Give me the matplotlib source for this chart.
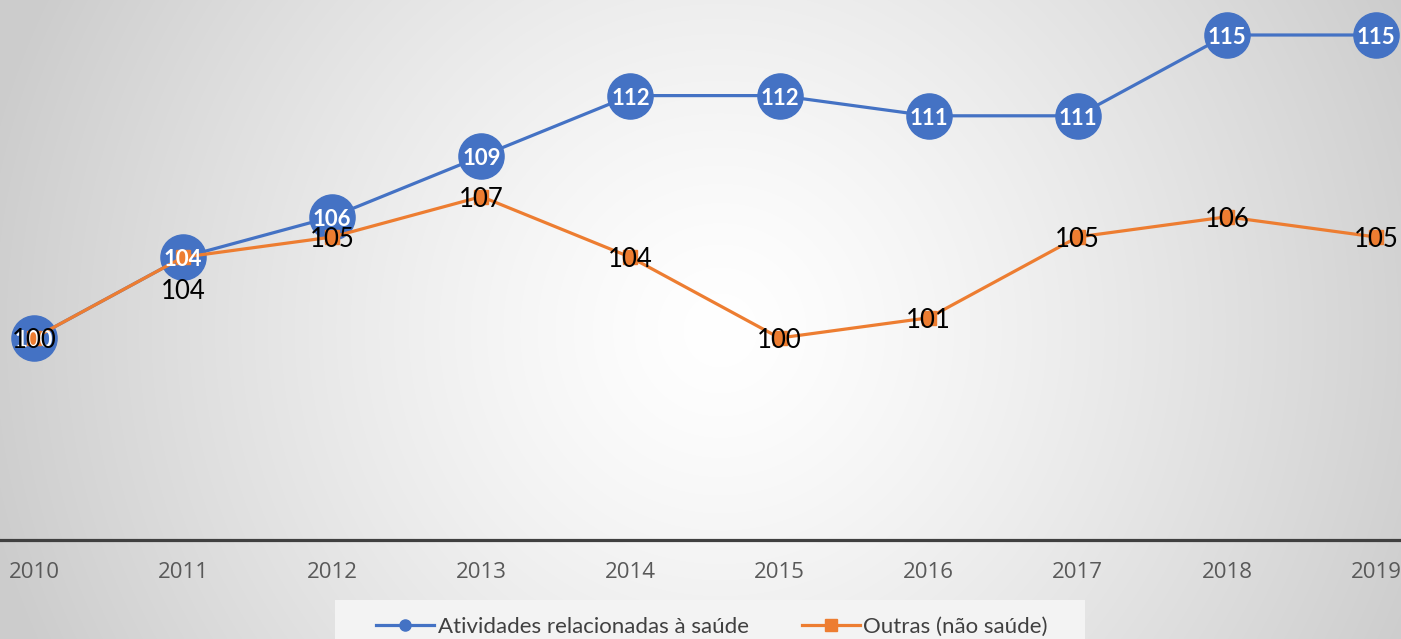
import numpy as np
import matplotlib
matplotlib.use("Agg")
import matplotlib.pyplot as plt
from matplotlib.lines import Line2D

years = [2010, 2011, 2012, 2013, 2014, 2015, 2016, 2017, 2018, 2019]
saude = [100, 104, 106, 109, 112, 112, 111, 111, 115, 115]
outras = [100, 104, 105, 107, 104, 100, 101, 105, 106, 105]
serie_names = ["Atividades relacionadas à saúde", "Outras (não saúde)"]

BLUE = "#4472C4"
ORANGE = "#ED7D31"
W, H = 1401, 639
fig = plt.figure(figsize=(W / 100, H / 100), dpi=100)

# radial gradient background
bg = fig.add_axes([0, 0, 1, 1], zorder=-10)
yy, xx = np.mgrid[0:H, 0:W]
r = np.sqrt(((xx - 720) / 1.0) ** 2 + ((yy - 330) / 1.0) ** 2)
v = 1.0 - 0.20 * np.clip(r / 760, 0, 1) ** 1.3
img = np.dstack([v, v, v])
bg.imshow(img, aspect="auto", extent=[0, W, H, 0])
bg.set_xlim(0, W)
bg.set_ylim(H, 0)
bg.axis("off")
# legend box
bg.add_patch(plt.Rectangle((335, 600), 750, 45, facecolor="#f3f3f3", edgecolor="none"))

ax = fig.add_axes([0, 1 - 540 / H, 1, 540 / H])
ax.patch.set_alpha(0)
px = 149.11
ax.set_xlim(2010 - 34 / px, 2019 + 25 / px)
ppu = 20.2
ax.set_ylim(100 - 202 / ppu, 100 + 338 / ppu)

ax.plot(years, saude, color=BLUE, lw=2.3, marker="o", ms=32.5, mec=BLUE, mfc=BLUE, zorder=2, clip_on=False)
ax.plot(years, outras, color=ORANGE, lw=2.3, marker="s", ms=9.5, mec=ORANGE, mfc=ORANGE, zorder=3, clip_on=False)

for x, y in zip(years, saude):
    ax.annotate(str(y), (x, y), xytext=(0, -2), textcoords="offset points", ha="center", va="center",
                color="white", fontsize=16, fontweight="bold", family="Lato", zorder=4)
for i, (x, y) in enumerate(zip(years, outras)):
    dy = -25 if x == 2011 else -2
    ax.annotate(str(y), (x, y), xytext=(0, dy), textcoords="offset points", ha="center", va="center",
                color="black", fontsize=18.5, family="Lato", zorder=5)

for s in ["top", "right", "left"]:
    ax.spines[s].set_visible(False)
ax.spines["bottom"].set_color("#404040")
ax.spines["bottom"].set_linewidth(2.3)
ax.set_yticks([])
ax.set_xticks(years)
ax.set_xticklabels([str(y) for y in years], fontsize=16, color="#595959", family="Open Sans")
ax.tick_params(axis="x", length=0, pad=16)

handles = [Line2D([], [], color=BLUE, lw=2.3, marker="o", ms=8),
           Line2D([], [], color=ORANGE, lw=2.3, marker="s", ms=8)]
leg = fig.legend(handles, serie_names, loc="center", bbox_to_anchor=(712 / W, 1 - 627 / H), ncol=2,
                 frameon=False, handlelength=2.6, handletextpad=0.15, columnspacing=2.4,
                 prop={"family": "Lato", "size": 16})
for t in leg.get_texts():
    t.set_color("#404040")

fig.savefig("out.png", dpi=100)
